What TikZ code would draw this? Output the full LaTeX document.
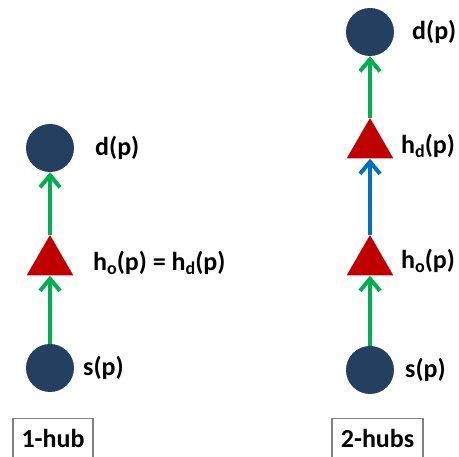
\documentclass[tikz,border=0pt]{standalone}
\usepackage{fontspec}
\setmainfont{Carlito}
\usetikzlibrary{shapes.geometric,arrows.meta}
\definecolor{navy}{HTML}{243F60}
\definecolor{hubred}{HTML}{C00000}
\definecolor{pathgreen}{HTML}{00B050}
\definecolor{hubblue}{HTML}{0070C0}
\newcommand{\hsub}[1]{\raisebox{-3.5pt}{\fontsize{18}{18}\selectfont #1}}
\begin{document}
\begin{tikzpicture}[x=1pt,y=-1pt,
  endpt/.style={circle,fill=navy,minimum size=48pt,inner sep=0pt},
  hub/.style={regular polygon,regular polygon sides=3,fill=hubred,minimum size=54pt,inner sep=0pt},
  lbl/.style={anchor=base west,font=\fontsize{26}{30}\selectfont\bfseries,inner sep=0pt},
  hop/.style={line width=4pt,pathgreen,-{Straight Barb[length=12pt,width=20pt]}},
  mid/.style={hop,hubblue},
  tag/.style={draw=gray,line width=1.5pt,font=\fontsize{26}{30}\selectfont\bfseries,inner sep=3pt,
    minimum width=80pt,text height=26pt,text depth=30pt,anchor=north}]
\path[use as bounding box] (0,0) rectangle (459,457);
\clip (0,0) rectangle (459,457);
% 1-hub
\node[endpt] (s1) at (50,368) {};
\node[hub] (h1) at (50,262) {};
\node[endpt] (d1) at (50,148) {};
\draw[hop] (s1.north) -- (h1.south);
\draw[hop] (h1.north) -- (d1.south);
\node[lbl] (ls1) at (83,376) {s(p)};
\node[lbl] (lh1) at (93,271) {h\hsub{o}(p) = h\hsub{d}(p)};
\node[lbl] (ld1) at (95,156) {d(p)};
% 2-hubs
\node[endpt] (s2) at (370,370) {};
\node[hub] (ho2) at (370,262) {};
\node[hub] (hd2) at (370,145) {};
\node[endpt] (d2) at (370,32) {};
\draw[hop] (s2.north) -- (ho2.south);
\draw[mid] (ho2.north) -- (hd2.south);
\draw[hop] (hd2.north) -- (d2.south);
\node[lbl] (ls2) at (405,378) {s(p)};
\node[lbl] (lho2) at (401,269) {h\hsub{o}(p)};
\node[lbl] (lhd2) at (401,154) {h\hsub{d}(p)};
\node[lbl] (ld2) at (412,40) {d(p)};
% labels
\node[tag] (t1) at (53,418) {1-hub};
\node[tag,minimum width=91pt] (t2) at (377.5,418) {2-hubs};
\end{tikzpicture}
\end{document}
